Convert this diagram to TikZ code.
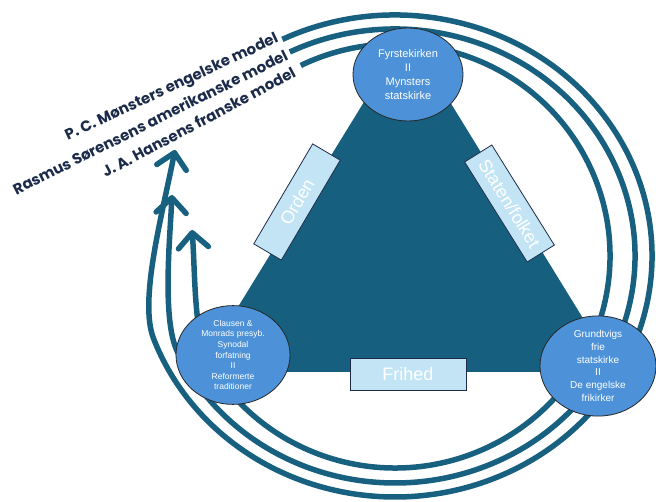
\documentclass[tikz,border=0pt]{standalone}
\usepackage{fontspec}
\setmainfont{Liberation Sans}
\newfontfamily\modelfont{Poppins}
\usetikzlibrary{arrows.meta,shapes.geometric}

\definecolor{ringblue}{RGB}{24,96,128}
\definecolor{trifill}{RGB}{23,95,126}
\definecolor{churchblue}{RGB}{77,146,216}
\definecolor{valuebox}{RGB}{194,228,245}
\definecolor{labelnavy}{RGB}{28,43,74}

\tikzset{
  ring/.style={draw=ringblue, line width=5.5pt,
    -{Straight Barb[length=15pt,width=30pt,round]}},
  church/.style={ellipse, draw=black!85, line width=0.8pt, fill=churchblue,
    text=white, align=center, inner sep=0pt},
  valuebox/.style={draw=labelnavy, fill=valuebox, line width=0.8pt,
    minimum width=116pt, minimum height=32pt, inner sep=0pt, text=white,
    font=\fontsize{18}{20}\selectfont},
  model/.style={text=labelnavy, inner sep=0pt,
    font=\modelfont\bfseries\fontsize{15}{17}\selectfont}
}

\begin{document}
\begin{tikzpicture}[x=1pt,y=1pt]
    \useasboundingbox (0,0) rectangle (656,501);
    \coordinate (ringc) at (395,245);
    \coordinate (tipa) at (175,351);
    \coordinate (tipb) at (172,306);
    \coordinate (tipc) at (192,271);

    % Rings with arrows
    \draw[ring] ([shift={(116:257 and 241)}]ringc)
      arc[start angle=116, end angle=-160, x radius=257, y radius=241]
      .. controls (139,200) and (161.3,282.4) .. (tipa);
    \draw[ring] ([shift={(116:240 and 227)}]ringc)
      arc[start angle=116, end angle=-155, x radius=240, y radius=227]
      .. controls (162,180.4) and (169.8,261) .. (tipb);
    \draw[ring] ([shift={(116:215 and 212)}]ringc)
      arc[start angle=116, end angle=-150, x radius=215, y radius=212]
      .. controls (193.6,164.9) and (195.2,231) .. (tipc);

    % Triangle
    \fill[trifill] (407,469) -- (198,129) -- (616,129) -- cycle;

    % Values on the sides
    \node[valuebox, rotate=59.5] (orden) at (297,299) {Orden};
    \node[valuebox, rotate=-58, minimum width=118pt] (staten) at (509.5,297.5) {Staten/folket};
    \node[valuebox] (frihed) at (408,126.5) {Frihed};

    % Churches
    \node[church, minimum width=110pt, minimum height=93pt,
      font=\fontsize{11}{14}\selectfont] (fyrste) at (408,426.5)
      {Fyrstekirken\\II\\Mynsters\\statskirke};
    \node[church, minimum width=114pt, minimum height=86pt,
      font=\fontsize{8.5}{10.6}\selectfont] (clausen) at (233,146)
      {Clausen \&\\Monrads presyb.\\Synodal\\forfatning\\II\\Reformerte\\traditioner};
    \node[church, minimum width=116pt, minimum height=96pt,
      font=\fontsize{10}{12.7}\selectfont] (grundtvig) at (598,135)
      {Grundtvigs\\frie\\statskirke\\II\\De engelske\\frikirker};

    % Models
    \node[model, rotate=25] (engelsk) at (172,413) {P. C. Mønsters engelske model};
    \node[model, rotate=26.5] (amerikansk) at (150,379) {Rasmus Sørensens amerikanske model};
    \node[model, rotate=28] (fransk) at (198.5,379) {J. A. Hansens franske model};
\end{tikzpicture}
\end{document}
